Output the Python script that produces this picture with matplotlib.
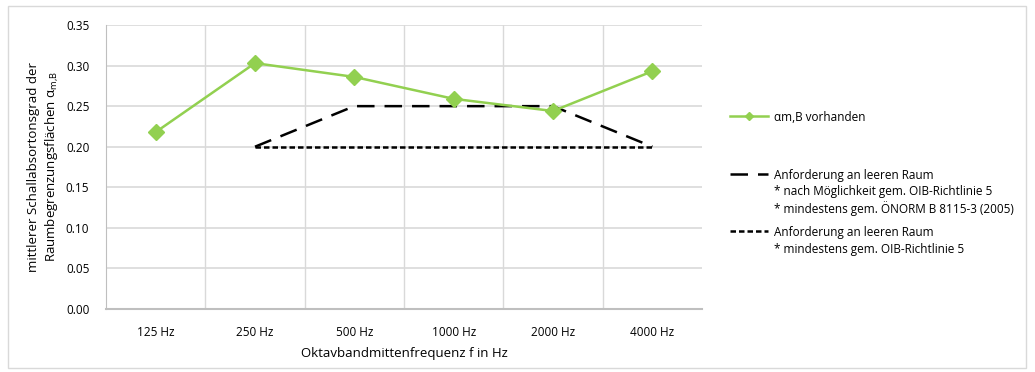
import matplotlib
matplotlib.use('Agg')
import matplotlib.pyplot as plt
import numpy as np
from matplotlib.lines import Line2D
from matplotlib.patches import Rectangle

# Oktavbänder und Absorptionsgrade
frequenzen = ['125 Hz', '250 Hz', '500 Hz', '1000 Hz', '2000 Hz', '4000 Hz']
alpha_vorhanden = [0.218, 0.303, 0.286, 0.259, 0.244, 0.293]
anf_oenorm = [np.nan, 0.20, 0.25, 0.25, 0.25, 0.20]
anf_oib = [np.nan, 0.20, 0.20, 0.20, 0.20, 0.20]

legende = [
    ['αm,B vorhanden'],
    ['Anforderung an leeren Raum',
     '* nach Möglichkeit gem. OIB-Richtlinie 5',
     '* mindestens gem. ÖNORM B 8115-3 (2005)'],
    ['Anforderung an leeren Raum',
     '* mindestens gem. OIB-Richtlinie 5'],
]

plt.rcParams['font.family'] = ['Open Sans', 'DejaVu Sans']
plt.rcParams['font.size'] = 8.5

gruen = '#92D050'
grid_c = '#D9D9D9'

fig = plt.figure(figsize=(10.35, 3.72), dpi=100)
fig.add_artist(Rectangle((0.008, 0.011), 0.983, 0.973, transform=fig.transFigure,
                         fill=False, edgecolor=grid_c, linewidth=1.0))

ax = fig.add_axes([106 / 1035, 1 - 309 / 372, (702 - 106) / 1035, (309 - 25) / 372])
x = np.arange(len(frequenzen))

ax.plot(x, alpha_vorhanden, color=gruen, lw=1.8, marker='D', ms=8,
        markeredgecolor=gruen, zorder=4)
ax.plot(x, anf_oenorm, color='black', lw=1.8, dashes=(7, 4), zorder=3)
ax.plot(x, anf_oib, color='black', lw=1.8, dashes=(2.2, 1.2), zorder=3)

ax.set_xlim(-0.5, len(frequenzen) - 0.5)
ax.set_ylim(0, 0.35)
ax.set_yticks(np.arange(0, 0.351, 0.05))
ax.set_yticklabels([f'{v:.2f}' for v in np.arange(0, 0.351, 0.05)])
ax.set_xticks(x)
ax.set_xticklabels(frequenzen)
ax.set_xticks(np.arange(0.5, len(frequenzen) - 0.5), minor=True)
ax.tick_params(which='both', length=0)
ax.tick_params(axis='x', pad=12)
ax.tick_params(axis='y', pad=12)

ax.grid(True, axis='y', color=grid_c, lw=1.2)
ax.grid(True, axis='x', which='minor', color=grid_c, lw=1.0)
ax.set_axisbelow(True)
for s in ['top', 'right']:
    ax.spines[s].set_visible(False)
ax.spines['left'].set_color('#BFBFBF')
ax.spines['bottom'].set_color('#BFBFBF')
ax.spines['bottom'].set_linewidth(1.5)

ax.set_xlabel('Oktavbandmittenfrequenz f in Hz', fontsize=9.5, labelpad=6)
ax.set_ylabel('mittlerer Schallabsortonsgrad der\nRaumbegrenzungsflächen α$_{\\mathregular{m{,}B}}$',
              fontsize=9.5, labelpad=4, linespacing=1.3)

# Legende rechts neben dem Diagramm, jede Textzeile einzeln gesetzt
handles = [
    dict(color=gruen, lw=1.8, marker='D', ms=4),
    dict(color='black', lw=1.8, dashes=(7, 4)),
    dict(color='black', lw=1.8, dashes=(2.2, 1.2)),
]
zeilen_y = [116, 174, 231]
zeilenabstand = 16.5
for h, zeilen, yy in zip(handles, legende, zeilen_y):
    yf = 1 - yy / 372
    if 'marker' in h:
        ln = Line2D([730 / 1035, 749 / 1035, 768 / 1035], [yf, yf, yf],
                    transform=fig.transFigure, markevery=[1], **h)
    else:
        ln = Line2D([730 / 1035, 768 / 1035], [yf, yf], transform=fig.transFigure, **h)
    fig.add_artist(ln)
    for i, txt in enumerate(zeilen):
        fig.text(774 / 1035, 1 - (yy + i * zeilenabstand) / 372, txt, fontsize=8.5,
                 va='center_baseline', ha='left', transform=fig.transFigure)

fig.savefig('out.png', dpi=100)
